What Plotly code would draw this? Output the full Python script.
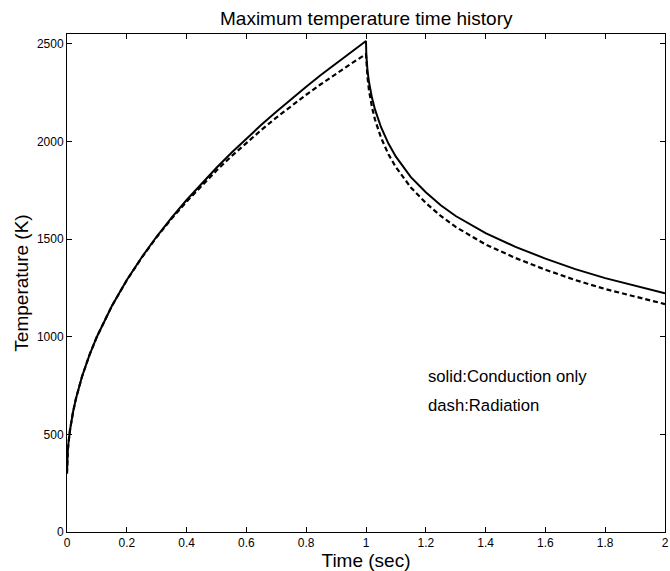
import plotly.graph_objects as go

# Solid: conduction only
t_solid = [0, 0.001, 0.0025, 0.005, 0.01, 0.02, 0.03, 0.05, 0.075, 0.1, 0.15, 0.2, 0.25, 0.3,
           0.35, 0.4, 0.45, 0.5, 0.55, 0.6, 0.65, 0.7, 0.75, 0.8, 0.85, 0.9, 0.95, 1.0,
           1.001, 1.0025, 1.005, 1.01, 1.02, 1.03, 1.05, 1.075, 1.1, 1.15, 1.2, 1.25, 1.3,
           1.4, 1.5, 1.6, 1.7, 1.8, 1.9, 2.0]
T_solid = [300, 370, 411, 457, 521, 613, 683, 795, 906, 1000, 1157, 1290, 1407, 1513,
           1610, 1700, 1785, 1865, 1942, 2015, 2085, 2152, 2217, 2280, 2341, 2400, 2458, 2514,
           2445, 2406, 2363, 2304, 2223, 2164, 2074, 1989, 1922, 1817, 1740, 1673, 1618,
           1530, 1460, 1400, 1346, 1300, 1260, 1222]

# Dashed: radiation
t_dash = [0, 0.001, 0.0025, 0.005, 0.01, 0.02, 0.03, 0.05, 0.075, 0.1, 0.15, 0.2, 0.25, 0.3,
          0.35, 0.4, 0.45, 0.5, 0.55, 0.6, 0.65, 0.7, 0.75, 0.8, 0.85, 0.9, 0.95, 1.0,
          1.001, 1.0025, 1.005, 1.01, 1.02, 1.03, 1.05, 1.075, 1.1, 1.15, 1.2, 1.25, 1.3,
          1.4, 1.5, 1.6, 1.7, 1.8, 1.9, 2.0]
T_dash = [300, 370, 411, 457, 521, 613, 683, 795, 906, 1000, 1157, 1289, 1405, 1510,
          1605, 1692, 1774, 1851, 1924, 1993, 2059, 2122, 2182, 2239, 2294, 2347, 2398, 2447,
          2410, 2380, 2330, 2262, 2175, 2112, 2020, 1934, 1868, 1764, 1685, 1618, 1562,
          1472, 1403, 1343, 1290, 1244, 1204, 1167]

x_ticks = [0, 0.2, 0.4, 0.6, 0.8, 1, 1.2, 1.4, 1.6, 1.8, 2]
x_tick_labels = ["0", "0.2", "0.4", "0.6", "0.8", "1", "1.2", "1.4", "1.6", "1.8", "2"]
y_ticks = [0, 500, 1000, 1500, 2000, 2500]
y_tick_labels = ["0", "500", "1000", "1500", "2000", "2500"]

FONT = "Liberation Sans, Arial, Helvetica, sans-serif"

fig = go.Figure()
fig.add_trace(go.Scatter(x=t_solid, y=T_solid, mode="lines",
                         line=dict(color="black", width=2),
                         showlegend=False, hoverinfo="skip"))
fig.add_trace(go.Scatter(x=t_dash, y=T_dash, mode="lines",
                         line=dict(color="black", width=2.2, dash="5px,3px"),
                         showlegend=False, hoverinfo="skip"))

axis_common = dict(showline=True, linecolor="black", linewidth=1, mirror="ticks",
                   ticks="inside", ticklen=5, tickcolor="black", tickwidth=1,
                   showgrid=False, zeroline=False, ticklabeloverflow="allow",
                   tickfont=dict(family=FONT, size=12, color="black"))

fig.update_xaxes(range=[0, 2], tickvals=x_ticks, ticktext=x_tick_labels,
                 title=dict(text="Time (sec)", font=dict(family=FONT, size=19, color="black"), standoff=0),
                 **axis_common)
fig.update_yaxes(range=[0, 2550], tickvals=y_ticks, ticktext=y_tick_labels,
                 title=dict(text="Temperature (K)", font=dict(family=FONT, size=19, color="black"), standoff=3),
                 **axis_common)

fig.add_annotation(x=0.5, y=1, xref="paper", yref="paper", xanchor="center", yanchor="bottom",
                   yshift=3, showarrow=False, text="Maximum temperature time history",
                   font=dict(family=FONT, size=19, color="black"))
fig.add_annotation(x=1.2, y=794, xanchor="left", yanchor="middle", showarrow=False,
                   text="solid:Conduction only", font=dict(family=FONT, size=16.7, color="black"))
fig.add_annotation(x=1.2, y=650, xanchor="left", yanchor="middle", showarrow=False,
                   text="dash:Radiation", font=dict(family=FONT, size=16.7, color="black"))

fig.update_layout(width=670, height=571, margin=dict(l=67, r=1, t=34, b=39),
                  plot_bgcolor="white", paper_bgcolor="white", hovermode=False)

fig.write_html("out.html", config={"displayModeBar": False, "staticPlot": True},
               post_script="document.body.style.margin='0';document.body.style.overflow='hidden';")
